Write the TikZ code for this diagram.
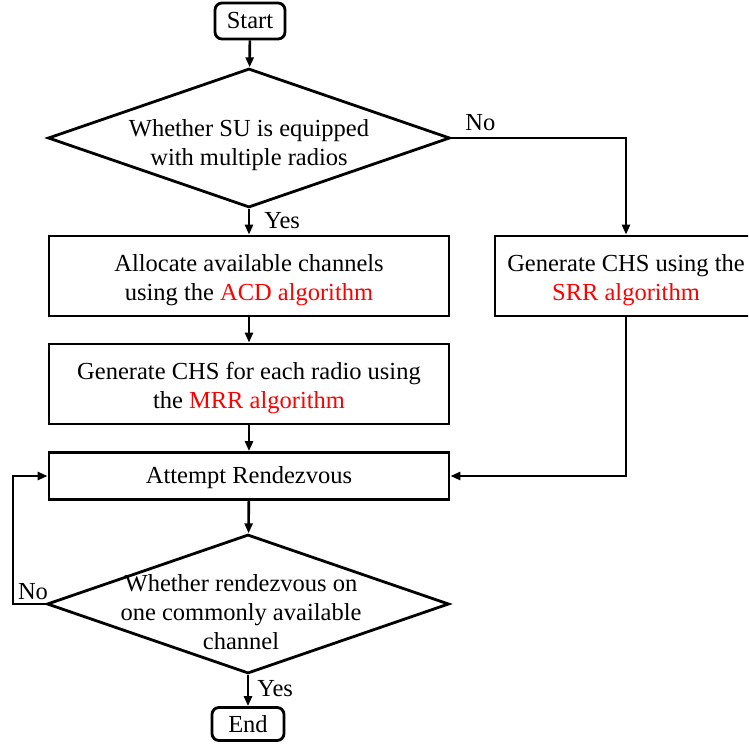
\documentclass[tikz,border=0pt]{standalone}
\usepackage{fontspec}
\setmainfont{Liberation Serif}
\newfontfamily\flowfont{Liberation Serif}
\usetikzlibrary{shapes.geometric,arrows.meta}
\begin{document}
\begin{tikzpicture}[x=1pt,y=-1pt,
  font=\flowfont\fontsize{24.5}{29}\selectfont,
  line width=2.8pt,
  term/.style={draw,rounded corners=7pt,minimum width=70pt,minimum height=36pt,inner sep=0pt},
  proc/.style={draw,minimum width=400pt,minimum height=80pt,inner sep=0pt},
  dec/.style={draw,diamond,aspect=2.9,minimum width=402pt,minimum height=139pt,inner sep=0pt},
  txt/.style={align=center,inner sep=0pt,yshift=-4pt},
  flow/.style={-{Triangle[length=10pt,width=8pt]},line width=2.6pt},
  lbl/.style={inner sep=0pt}]
\clip (0,0) rectangle (748,753);
\definecolor{hl}{RGB}{255,0,0}

\node[term] (start) at (250,21) {Start};
\node[dec, label={[txt,name=d1t,yshift=-3pt]center:Whether SU is equipped\\with multiple radios}] (d1) at (249,138) {};
\node[proc, label={[txt,name=acdt]center:Allocate available channels\\using the \textcolor{hl}{ACD algorithm}}] (acd) at (249,276) {};
\node[proc, label={[txt,name=mrrt]center:Generate CHS for each radio using\\the \textcolor{hl}{MRR algorithm}}] (mrr) at (249,384) {};
\node[proc,minimum height=47pt, label={[txt,name=attt,yshift=2pt]center:Attempt Rendezvous}] (att) at (249,476) {};
\node[proc,minimum width=262pt, label={[txt,name=srrt]center:Generate CHS using the\\\textcolor{hl}{SRR algorithm}}] (srr) at (626,276) {};
\node[dec, label={[txt,name=d2t,xshift=-7pt,yshift=-4pt]center:Whether rendezvous on\\one commonly available\\channel}] (d2) at (248,604) {};
\node[term,minimum width=72pt,minimum height=33pt] (end) at (248,724) {End};

\coordinate (loop) at (13,604);

\draw[flow] (start) -- (d1);
\draw[flow] (d1.south) -- (acd.north) node[lbl,pos=0.45,anchor=west,xshift=14pt] (yes1) {Yes};
\draw[flow] (d1.east) -| (srr.north);
\node[lbl,anchor=south west] (no1) at (464,132) {No};
\draw[flow] (acd) -- (mrr);
\draw[flow] (mrr) -- (att);
\draw[flow] (srr.south) |- (att.east);
\draw[flow] (att) -- (d2);
\draw[flow] (d2.west) -- (loop) |- (att.west);
\node[lbl,anchor=south] (no2) at (33,601) {No};
\draw[flow] (d2.south) -- (end.north) node[lbl,pos=0.45,anchor=west,xshift=8pt] (yes2) {Yes};
\end{tikzpicture}
\end{document}
